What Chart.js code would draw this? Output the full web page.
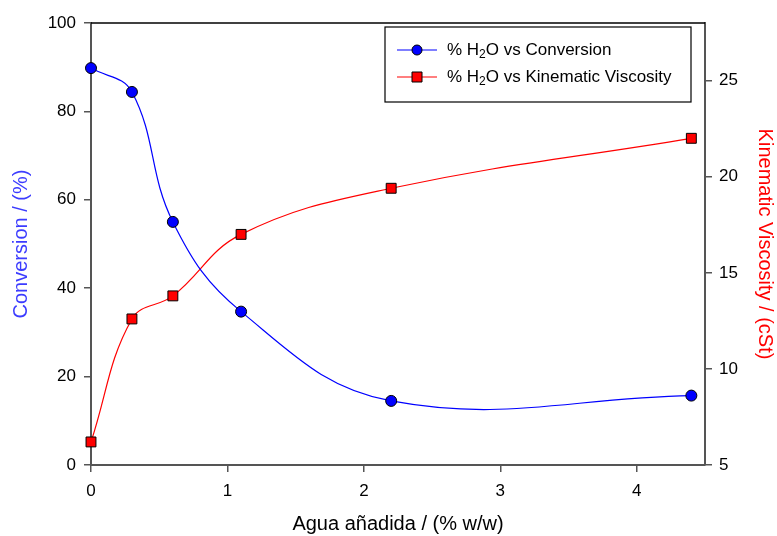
<!DOCTYPE html>
<html>
<head>
<meta charset="utf-8">
<script src="https://cdn.jsdelivr.net/npm/chart.js@4"></script>
<style>
  html,body{margin:0;padding:0;background:#fff}
  #wrap{width:777px;height:536px}
</style>
</head>
<body>
<div id="wrap"><canvas id="ch"></canvas></div>
<script>
// data
const water = [0, 0.3, 0.6, 1.1, 2.2, 4.4];
const conversion = [89.8, 84.4, 55.0, 34.7, 14.5, 15.7];
const viscosity = [6.2, 12.6, 13.8, 17.0, 19.4, 22.0];
const xTicks = [0, 1, 2, 3, 4];
const leftTicks = [0, 20, 40, 60, 80, 100];
const rightTicks = [5, 10, 15, 20, 25];

const FONT = "'Liberation Sans', Arial, sans-serif";
const AXIS = '#555';

// legend with a subscript 2, drawn inside the plot like the original
const legendBox = {
  id: 'legendBox',
  afterDraw(chart) {
    const c = chart.ctx, a = chart.chartArea;
    // top frame line
    c.save();
    c.strokeStyle = '#000'; c.lineWidth = 1.5;
    c.beginPath(); c.moveTo(a.left, a.top); c.lineTo(a.right, a.top); c.stroke();

    const bx = 385, by = 27, bw = 306, bh = 75;
    c.fillStyle = '#fff'; c.fillRect(bx, by, bw, bh);
    c.strokeStyle = '#000'; c.lineWidth = 1.2; c.strokeRect(bx, by, bw, bh);

    const rows = [
      {y: 50, color: '#0000ff', style: 'circle', rest: 'O vs Conversion'},
      {y: 77, color: '#ff0000', style: 'rect', rest: 'O vs Kinematic Viscosity'}
    ];
    rows.forEach(r => {
      c.strokeStyle = r.color; c.lineWidth = 1.2;
      c.beginPath(); c.moveTo(397, r.y); c.lineTo(437, r.y); c.stroke();
      c.fillStyle = r.color; c.strokeStyle = '#000'; c.lineWidth = 1;
      c.beginPath();
      if (r.style === 'circle') c.arc(417, r.y, 5, 0, Math.PI * 2);
      else c.rect(412, r.y - 5, 10, 10);
      c.fill(); c.stroke();

      c.fillStyle = '#000'; c.textBaseline = 'middle'; c.textAlign = 'left';
      c.font = '17px ' + FONT;
      let x = 447;
      c.fillText('% H', x, r.y); x += c.measureText('% H').width;
      c.font = '12px ' + FONT;
      c.fillText('2', x, r.y + 5); x += c.measureText('2').width;
      c.font = '17px ' + FONT;
      c.fillText(r.rest, x, r.y);
    });
    c.restore();
  }
};

const ctx = document.getElementById('ch').getContext('2d');
new Chart(ctx, {
  type: 'line',
  data: {
    datasets: [
      {label: 'Conversion', data: water.map((w, i) => ({x: w, y: conversion[i]})),
       yAxisID: 'y', borderColor: '#0000ff', backgroundColor: '#0000ff', borderWidth: 1.2,
       tension: 0.4, pointStyle: 'circle', pointRadius: 5.5, pointBorderColor: '#000',
       pointBorderWidth: 1, pointBackgroundColor: '#0000ff', clip: false},
      {label: 'Kinematic Viscosity', data: water.map((w, i) => ({x: w, y: viscosity[i]})),
       yAxisID: 'y1', borderColor: '#ff0000', backgroundColor: '#ff0000', borderWidth: 1.2,
       tension: 0.4, pointStyle: 'rect', pointRadius: 7, pointBorderColor: '#000',
       pointBorderWidth: 1, pointBackgroundColor: '#ff0000', clip: false}
    ]
  },
  options: {
    responsive: true, maintainAspectRatio: false, animation: false,
    layout: {padding: {top: 23, left: 0, right: 0, bottom: 0}},
    plugins: {legend: {display: false}, tooltip: {enabled: false}},
    scales: {
      x: {
        type: 'linear', min: 0, max: 4.5,
        afterFit: s => { s.height = 71; },
        afterBuildTicks: s => { s.ticks = xTicks.map(v => ({value: v})); },
        ticks: {color: '#000', font: {family: FONT, size: 17}, padding: 9, includeBounds: false},
        grid: {drawOnChartArea: false, drawTicks: true, tickLength: 7, color: AXIS, lineWidth: 1.5},
        border: {display: true, color: AXIS, width: 2},
        title: {display: true, text: 'Agua añadida / (% w/w)', color: '#000',
                font: {family: FONT, size: 20}, padding: {top: 0, bottom: 0}}
      },
      y: {
        position: 'left', min: 0, max: 100,
        afterFit: s => { s.width = 91; },
        afterBuildTicks: s => { s.ticks = leftTicks.map(v => ({value: v})); },
        ticks: {color: '#000', font: {family: FONT, size: 17}, padding: 8},
        grid: {drawOnChartArea: false, drawTicks: true, tickLength: 7, color: AXIS, lineWidth: 1.5},
        border: {display: true, color: AXIS, width: 2},
        title: {display: true, text: 'Conversion / (%)', color: '#3c3cff',
                font: {family: FONT, size: 20}, padding: {top: 9, bottom: 0}}
      },
      y1: {
        position: 'right', min: 5, max: 28,
        afterFit: s => { s.width = 72; },
        afterBuildTicks: s => { s.ticks = rightTicks.map(v => ({value: v})); },
        ticks: {color: '#000', font: {family: FONT, size: 17}, padding: 7},
        grid: {drawOnChartArea: false, drawTicks: true, tickLength: 7, color: AXIS, lineWidth: 1.5},
        border: {display: true, color: AXIS, width: 2},
        title: {display: true, text: 'Kinematic Viscosity / (cSt)', color: '#ff0000',
                font: {family: FONT, size: 20}, padding: {top: 0, bottom: 0}}
      }
    }
  },
  plugins: [legendBox]
});
</script>
</body>
</html>
